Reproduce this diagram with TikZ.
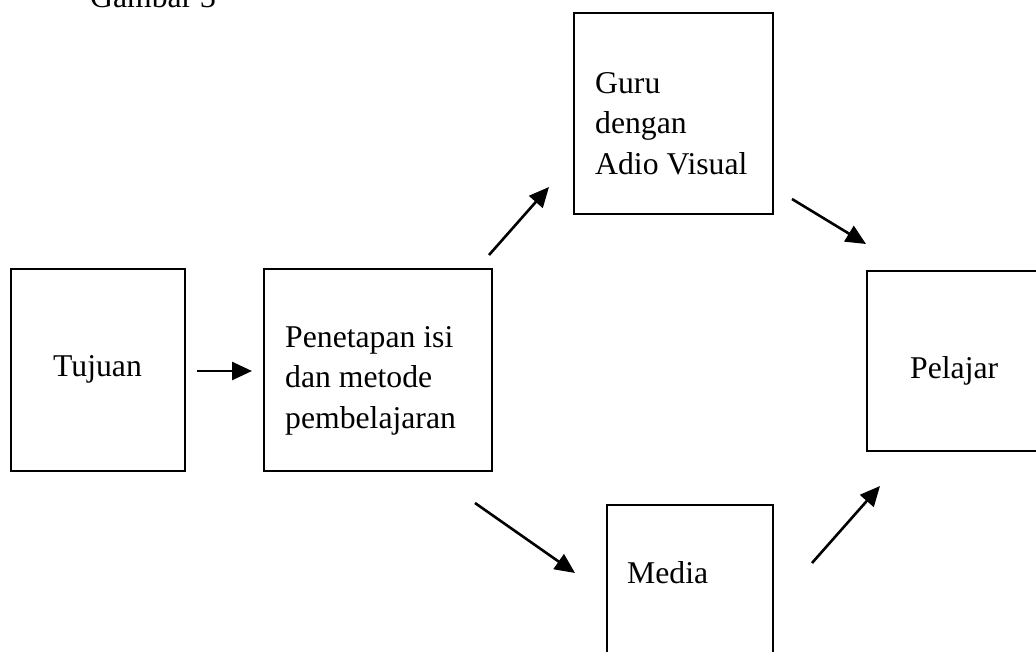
\documentclass[tikz,border=0pt]{standalone}
\usepackage{fontspec}
\setmainfont{Liberation Serif}
\usetikzlibrary{arrows.meta}

\begin{document}
\begin{tikzpicture}[x=1pt, y=-1pt,
    kotak/.style={draw, line width=1.8pt, inner sep=0pt, anchor=north west},
    tulisan/.style={inner sep=0pt, anchor=base west, align=left,
        font=\fontsize{31.7}{40.5}\selectfont},
    panah/.style={line width=2.6pt, -{Triangle[length=20pt, width=18pt]}}]

    \useasboundingbox (0,0) rectangle (1036,651);

    \node[kotak, minimum width=174pt, minimum height=202pt] (tujuan) at (10,268) {};
    \node[kotak, minimum width=228pt, minimum height=202pt] (penetapan) at (263,268) {};
    \node[kotak, minimum width=199pt, minimum height=201pt] (guru) at (573,12) {};
    \node[kotak, minimum width=180pt, minimum height=180pt] (pelajar) at (866,270) {};
    \node[kotak, minimum width=166pt, minimum height=200pt] (media) at (606,504) {};

    \node[tulisan] (judul) at (90,7) {Gambar 3};
    \node[tulisan] (tujuan-t) at (53,376) {Tujuan};
    \node[tulisan] (penetapan-t) at (285,428) {Penetapan isi\\dan metode\\pembelajaran};
    \node[tulisan] (guru-t) at (595,174) {Guru\\dengan\\Adio Visual};
    \node[tulisan] (pelajar-t) at (910,378) {Pelajar};
    \node[tulisan] (media-t) at (627,583) {Media};

    \coordinate (a1) at (197,371);
    \coordinate (b1) at (252,371);
    \coordinate (a2) at (489,255);
    \coordinate (b2) at (549,187);
    \coordinate (a3) at (792,199);
    \coordinate (b3) at (866,244);
    \coordinate (a4) at (475,503);
    \coordinate (b4) at (575,573);
    \coordinate (a5) at (812,563);
    \coordinate (b5) at (880,486);

    \draw[panah] (a1) -- (b1);
    \draw[panah] (a2) -- (b2);
    \draw[panah] (a3) -- (b3);
    \draw[panah] (a4) -- (b4);
    \draw[panah] (a5) -- (b5);

\end{tikzpicture}
\end{document}
